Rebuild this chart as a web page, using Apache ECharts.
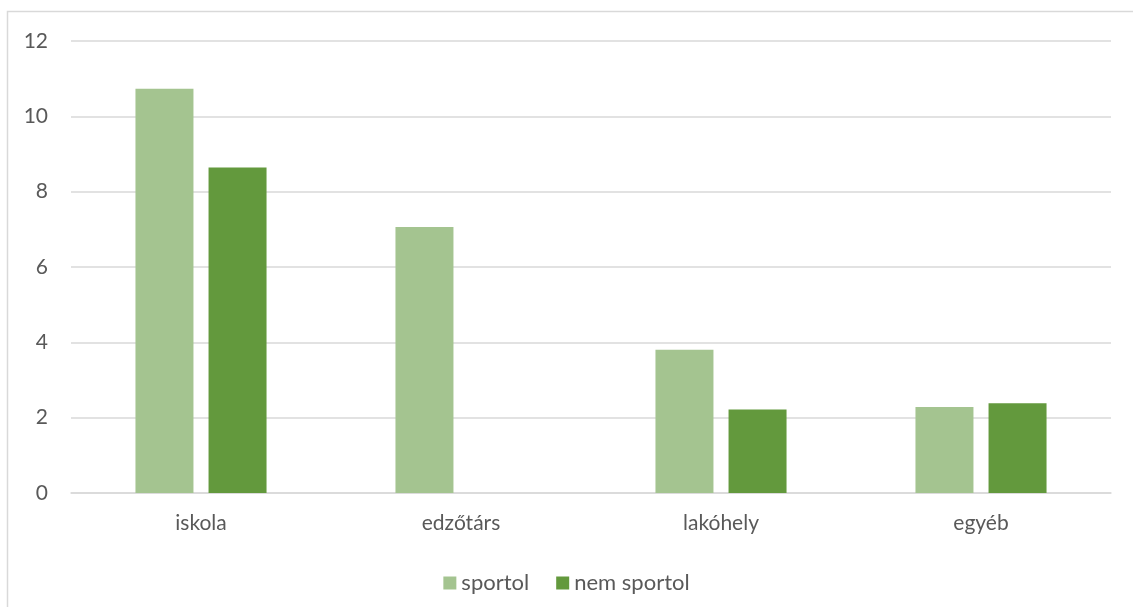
<!DOCTYPE html>
<html>
<head>
<meta charset="utf-8">
<script src="https://cdn.jsdelivr.net/npm/echarts@6/dist/echarts.min.js"></script>
<style>
  html, body { margin: 0; padding: 0; background: #fff; }
  #chart { width: 1133px; height: 607px; }
</style>
</head>
<body>
<div id="chart"></div>
<script>
// Categories and values for each group
const categories = ['iskola', 'edzőtárs', 'lakóhely', 'egyéb'];
const sportol = [10.73, 7.06, 3.80, 2.28];
const nemSportol = [8.64, 0, 2.22, 2.38];
const seriesNames = ['sportol', 'nem sportol'];

const textColor = '#595959';
const gridColor = '#D9D9D9';
const fontFamily = 'Lato, "Liberation Sans", sans-serif';
const fontSize = 21;

const chart = echarts.init(document.getElementById('chart'), null, { renderer: 'canvas' });

chart.setOption({
  animation: false,
  backgroundColor: '#fff',
  graphic: [{
    type: 'rect',
    shape: { x: 7.5, y: 11.5, width: 1140, height: 620 },
    style: { fill: 'none', stroke: gridColor, lineWidth: 1.5 },
    silent: true
  }],
  grid: { left: 71, right: 22, top: 41, bottom: 114, containLabel: false },
  legend: {
    top: 567,
    left: 'center',
    itemWidth: 13,
    itemHeight: 13,
    itemGap: 27,
    icon: 'rect',
    textStyle: { color: textColor, fontSize: 22, fontFamily: fontFamily },
    data: seriesNames
  },
  xAxis: {
    type: 'category',
    data: categories,
    axisLine: { lineStyle: { color: gridColor, width: 1.5 } },
    axisTick: { show: false },
    axisLabel: { color: textColor, fontSize: fontSize, fontFamily: fontFamily, margin: 20 }
  },
  yAxis: {
    type: 'value',
    min: 0,
    max: 12,
    interval: 2,
    axisLine: { show: false },
    axisTick: { show: false },
    axisLabel: { color: textColor, fontSize: fontSize, fontFamily: fontFamily, margin: 23 },
    splitLine: { lineStyle: { color: gridColor, width: 1.5 } }
  },
  series: [
    {
      name: seriesNames[0],
      type: 'bar',
      data: sportol,
      barWidth: 58,
      barGap: '26%',
      itemStyle: { color: '#A4C490' }
    },
    {
      name: seriesNames[1],
      type: 'bar',
      data: nemSportol,
      barWidth: 58,
      barGap: '26%',
      itemStyle: { color: '#63993D' }
    }
  ]
});
</script>
</body>
</html>
